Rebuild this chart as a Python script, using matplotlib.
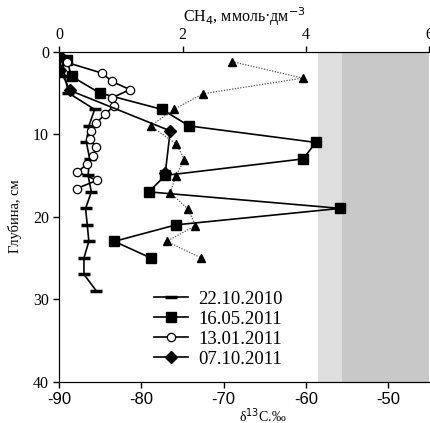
import numpy as np
import matplotlib
matplotlib.use("Agg")
import matplotlib.pyplot as plt

plt.rcParams['font.family'] = ['Liberation Serif', 'DejaVu Serif']
plt.rcParams['axes.unicode_minus'] = False

# delta13C profiles (bottom axis), depth in cm
depth_2210 = [1, 3, 5, 7, 9, 11, 13, 15, 17, 19, 21, 23, 25, 27, 29]
d13c_2210 = [-89.7, -89.3, -88.9, -85.7, -86.4, -86.7, -86.3, -86.5, -86.1,
             -86.8, -86.6, -86.4, -87.0, -87.0, -85.5]

depth_1605 = [1, 3, 5, 7, 9, 11, 13, 15, 17, 19, 21, 23, 25]
d13c_1605 = [-89.1, -88.5, -85.1, -77.5, -74.2, -58.8, -60.3, -77.1, -79.1,
             -55.8, -75.8, -83.3, -78.9]

depth_1301 = [1.3, 2.6, 3.6, 4.6, 5.6, 6.6, 7.6, 8.6, 9.6, 10.6, 11.6, 12.6,
              13.6, 14.6, 15.6, 16.6]
d13c_1301 = [-89.1, -84.8, -83.6, -81.4, -83.6, -83.4, -84.4, -85.5, -86.1,
             -86.3, -85.5, -85.9, -86.6, -87.8, -85.4, -87.9]

depth_0710 = [0.5, 2.2, 4.7, 9.6, 14.7]
d13c_0710 = [-89.9, -89.9, -88.7, -76.5, -77.1]

# CH4 concentration (top axis)
depth_ch4 = [1.2, 3.2, 5.1, 7, 9, 11.2, 13.1, 15.1, 17.1, 19.1, 21.1, 23, 25]
ch4 = [2.80, 3.95, 2.33, 1.86, 1.48, 1.90, 2.03, 1.89, 1.80, 2.09, 2.21, 1.74, 2.30]

fig = plt.figure(figsize=(4.31, 4.23), dpi=100)
ax = fig.add_axes([0.1376, 0.098, 0.8578, 0.7798])

# isotope ranges
ax.axvspan(-58.5, -55.6, color='#dedede', lw=0)
ax.axvspan(-55.6, -45, color='#c8c8c8', lw=0)

ax.plot(d13c_2210, depth_2210, color='black', lw=1.2, marker='_', ms=8, mew=2.5,
        label='22.10.2010')
ax.plot(d13c_1605, depth_1605, color='black', lw=1.2, marker='s', ms=6.5,
        label='16.05.2011')
ax.plot(d13c_1301, depth_1301, color='black', lw=1.2, marker='o', ms=6,
        mfc='white', mec='black', mew=0.9, label='13.01.2011')
ax.plot(d13c_0710, depth_0710, color='black', lw=1.2, marker='D', ms=6,
        label='07.10.2011')

ax.set_xlim(-90, -45)
ax.set_ylim(40, 0)
ax.set_xticks([-90, -80, -70, -60, -50])
ax.set_yticks([0, 10, 20, 30, 40])
for lab in ax.get_xticklabels():
    lab.set_family('Liberation Sans')
    lab.set_fontsize(12)
for lab in ax.get_yticklabels():
    lab.set_fontsize(11.5)
ax.tick_params(direction='out', length=4, width=1)
ax.set_xlabel('δ$^{13}$C.‰', fontsize=10, labelpad=1)
ax.xaxis.set_label_coords(0.55, -0.075)
ax.set_ylabel('Глубина, см', fontsize=10.5, labelpad=8)
ax.spines['right'].set_visible(False)

ax2 = ax.twiny()
ax2.plot(ch4, depth_ch4, color='#555555', lw=0.9, ls=(0, (1, 1.2)), marker='^',
         ms=6, mfc='black', mec='black')
ax2.set_xlim(0, 6)
ax2.set_xticks([0, 2, 4, 6])
ax2.tick_params(direction='out', length=4, width=1, labelsize=11.5, pad=2)
ax2.set_xlabel('CH$_4$, ммоль·дм$^{-3}$', fontsize=11.5, labelpad=4)
ax2.spines['right'].set_visible(False)

ax.legend(loc='center left', bbox_to_anchor=(0.336, 0.222), bbox_transform=fig.transFigure,
          frameon=False, fontsize=13.5, handlelength=1.8, labelspacing=0.15,
          handletextpad=0.55, borderpad=0)

fig.savefig('out.png', dpi=100)
